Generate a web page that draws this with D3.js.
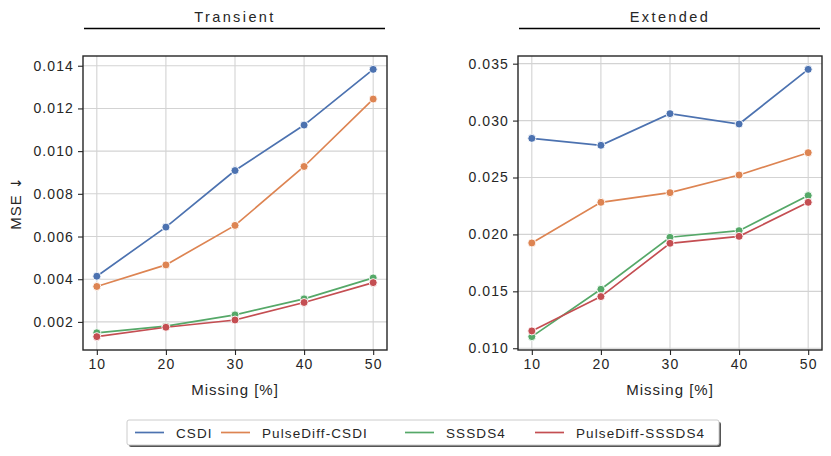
<!DOCTYPE html>
<html lang="en">
<head>
<meta charset="UTF-8">
<title>MSE vs missing</title>
<script src="https://d3js.org/d3.v7.min.js"></script>
<style>
  body { margin: 0; background: #fff; font-family: "Liberation Sans", Arial, sans-serif; }
  svg text { fill: #262626; }
</style>
</head>
<body>
<svg id="chart" width="831" height="456"></svg>
<script>
// data
const missing = [10, 20, 30, 40, 50];
const models = ["CSDI", "PulseDiff-CSDI", "SSSDS4", "PulseDiff-SSSDS4"];
const colors = ["#4c72b0", "#dd8452", "#55a868", "#c44e52"];

const transientCSDI = [0.00414, 0.00644, 0.00909, 0.01122, 0.01383];
const transientPulseCSDI = [0.00366, 0.00467, 0.00652, 0.00928, 0.01244];
const transientSSSD = [0.00149, 0.00180, 0.00233, 0.00308, 0.00406];
const transientPulseSSSD = [0.00131, 0.00175, 0.00209, 0.00291, 0.00384];

const extendedCSDI = [0.02844, 0.02783, 0.03061, 0.02970, 0.03450];
const extendedPulseCSDI = [0.01925, 0.02282, 0.02367, 0.02522, 0.02718];
const extendedSSSD = [0.01102, 0.01518, 0.01975, 0.02033, 0.02341];
const extendedPulseSSSD = [0.01152, 0.01454, 0.01922, 0.01983, 0.02282];

const transientTicks = [0.002, 0.004, 0.006, 0.008, 0.010, 0.012, 0.014];
const extendedTicks = [0.010, 0.015, 0.020, 0.025, 0.030, 0.035];

const panels = [
  { title: "Transient", x0: 83, x1: 387, ticks: transientTicks, fmt: d3.format(".3f"),
    series: [transientCSDI, transientPulseCSDI, transientSSSD, transientPulseSSSD], ylabel: "MSE" },
  { title: "Extended", x0: 518, x1: 822, ticks: extendedTicks, fmt: d3.format(".3f"),
    series: [extendedCSDI, extendedPulseCSDI, extendedSSSD, extendedPulseSSSD], ylabel: null }
];

const svg = d3.select("#chart");
const plotTop = 56, plotBottom = 350;

panels.forEach(p => {
  const all = p.series.flat();
  const lo = d3.min(all), hi = d3.max(all), pad = (hi - lo) * 0.05;
  const x = d3.scaleLinear().domain([8, 52]).range([p.x0, p.x1]);
  const y = d3.scaleLinear().domain([lo - pad, hi + pad]).range([plotBottom, plotTop]);
  const g = svg.append("g");

  // grid
  g.selectAll(".gx").data(missing).enter().append("line")
    .attr("x1", d => x(d)).attr("x2", d => x(d)).attr("y1", plotTop).attr("y2", plotBottom)
    .attr("stroke", "#d3d3d3").attr("stroke-width", 1.1);
  g.selectAll(".gy").data(p.ticks).enter().append("line")
    .attr("x1", p.x0).attr("x2", p.x1).attr("y1", d => y(d)).attr("y2", d => y(d))
    .attr("stroke", "#d3d3d3").attr("stroke-width", 1.1);

  // axes
  const xa = g.append("g").attr("transform", `translate(0,${plotBottom})`)
    .call(d3.axisBottom(x).tickValues(missing).tickSize(5).tickPadding(4));
  const ya = g.append("g").attr("transform", `translate(${p.x0},0)`)
    .call(d3.axisLeft(y).tickValues(p.ticks).tickFormat(p.fmt).tickSize(5).tickPadding(4));
  [xa, ya].forEach(a => {
    a.select(".domain").remove();
    a.selectAll("line").attr("stroke", "#262626").attr("stroke-width", 1.1);
    a.selectAll("text").attr("font-size", 14).attr("letter-spacing", "1.1px").attr("fill", "#262626")
      .attr("font-family", "'Liberation Sans', Arial, sans-serif");
  });

  // lines + markers
  p.series.forEach((vals, i) => {
    const pts = missing.map((m, k) => [m, vals[k]]);
    g.append("path").datum(pts)
      .attr("fill", "none").attr("stroke", colors[i]).attr("stroke-width", 1.7)
      .attr("d", d3.line().x(d => x(d[0])).y(d => y(d[1])));
    g.selectAll(null).data(pts).enter().append("circle")
      .attr("cx", d => x(d[0])).attr("cy", d => y(d[1])).attr("r", 4)
      .attr("fill", colors[i]).attr("stroke", "#fff").attr("stroke-width", 0.9);
  });

  // frame
  g.append("rect").attr("x", p.x0).attr("y", plotTop).attr("width", p.x1 - p.x0).attr("height", plotBottom - plotTop)
    .attr("fill", "none").attr("stroke", "#262626").attr("stroke-width", 1.4);

  // x label
  g.append("text").attr("x", (p.x0 + p.x1) / 2).attr("y", 395).attr("text-anchor", "middle")
    .attr("font-size", 15).attr("letter-spacing", "1px").text("Missing [%]");

  if (p.ylabel) {
    const yl = g.append("text").attr("transform", `translate(21,${(plotTop + plotBottom) / 2}) rotate(-90)`)
      .attr("text-anchor", "middle").attr("font-size", 15).attr("letter-spacing", "1px");
    yl.append("tspan").text(p.ylabel + " ");
    yl.append("tspan").attr("font-family", "'DejaVu Sans'").attr("font-size", 14).text("\u2193");
  }

  // title with underline
  g.append("text").attr("x", (p.x0 + p.x1) / 2).attr("y", 22).attr("text-anchor", "middle")
    .attr("font-size", 14.5).attr("letter-spacing", "2.4px").text(p.title);
  g.append("line").attr("x1", p.x0 + 1).attr("x2", p.x1 - 2).attr("y1", 28.5).attr("y2", 28.5)
    .attr("stroke", "#000").attr("stroke-width", 1.3);
});

// legend
const lg = svg.append("g");
const lx = 127, ly = 420, lw = 592, lh = 25;
lg.append("rect").attr("x", lx + 2).attr("y", ly + 2).attr("width", lw).attr("height", lh).attr("rx", 2)
  .attr("fill", "#555");
lg.append("rect").attr("x", lx).attr("y", ly).attr("width", lw).attr("height", lh).attr("rx", 2)
  .attr("fill", "#fff").attr("stroke", "#cccccc").attr("stroke-width", 1);
const entryX = [135, 221, 405, 535];
models.forEach((m, i) => {
  lg.append("line").attr("x1", entryX[i]).attr("x2", entryX[i] + 29).attr("y1", ly + 12.5).attr("y2", ly + 12.5)
    .attr("stroke", colors[i]).attr("stroke-width", 1.7);
  lg.append("text").attr("x", entryX[i] + 41).attr("y", ly + 17.5).attr("font-size", 13.5)
    .attr("letter-spacing", "1.1px").text(m);
});
</script>
</body>
</html>
